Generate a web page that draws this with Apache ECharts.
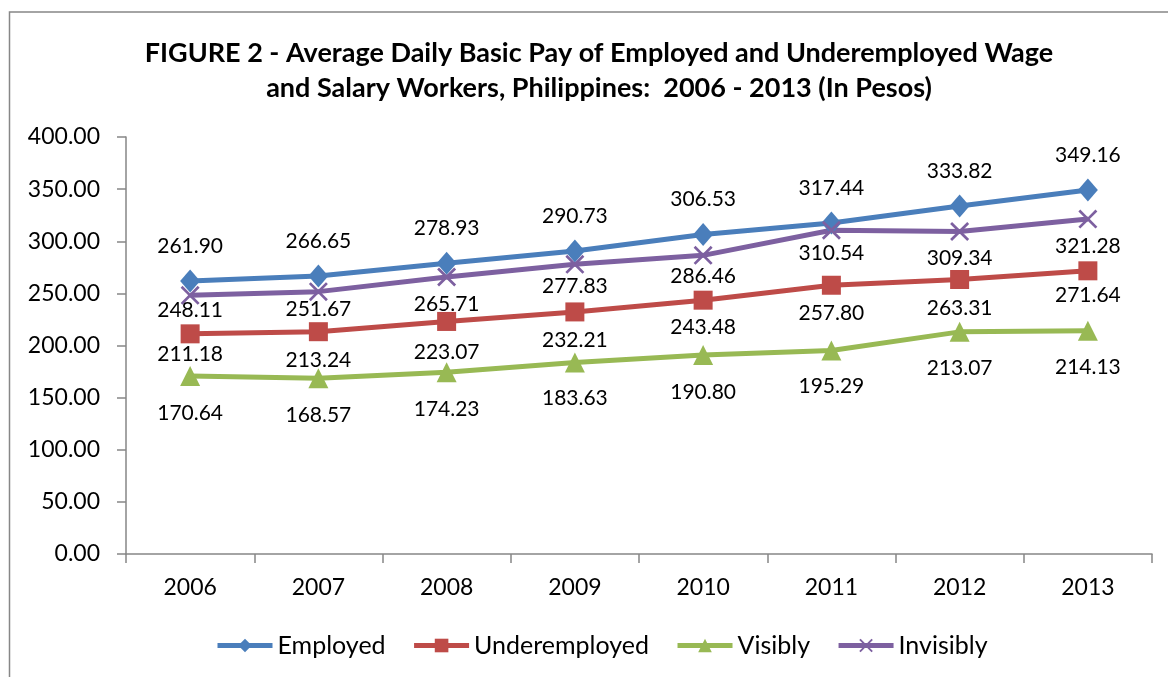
<!DOCTYPE html>
<html>
<head>
<meta charset="utf-8">
<script src="https://cdn.jsdelivr.net/npm/echarts@6/dist/echarts.min.js"></script>
<style>
  html, body { margin: 0; padding: 0; background: #fff; }
  #chart { width: 1168px; height: 677px; }
</style>
</head>
<body>
<div id="chart"></div>
<script>
var years = ['2006', '2007', '2008', '2009', '2010', '2011', '2012', '2013'];
var employed = [261.90, 266.65, 278.93, 290.73, 306.53, 317.44, 333.82, 349.16];
var underemployed = [211.18, 213.24, 223.07, 232.21, 243.48, 257.80, 263.31, 271.64];
var visibly = [170.64, 168.57, 174.23, 183.63, 190.80, 195.29, 213.07, 214.13];
var invisibly = [248.11, 251.67, 265.71, 277.83, 286.46, 310.54, 309.34, 321.28];

// vertical nudge of each data label (px from the marker)
var employedLabelDy = [-35, -35, -35, -35, -35, -35, -35, -35];
var underLabelDy = [20, 29, 31, 28, 27, 28, 29, 24];
var visiblyLabelDy = [37, 37, 37, 36, 37, 36, 36, 36];
var invisiblyLabelDy = [15, 18, 27, 22, 21, 23, 27, 27];

var font = 'Lato, "Noto Sans", sans-serif';
var xMark = 'path://M0,1L1,0L5,4L9,0L10,1L6,5L10,9L9,10L5,6L1,10L0,9L4,5Z';

function points(values, dys) {
  return values.map(function(v, i) {
    return { value: v, label: { offset: [0, dys[i]] } };
  });
}

function lineSeries(name, values, dys, color, symbol, size) {
  return {
    name: name,
    type: 'line',
    data: points(values, dys),
    symbol: symbol,
    symbolSize: size,
    lineStyle: { color: color, width: 5 },
    itemStyle: { color: color },
    label: {
      show: true,
      position: 'inside',
      color: '#000',
      fontFamily: font,
      fontSize: 21,
      formatter: function(p) { return p.value.toFixed(2); }
    }
  };
}

var chart = echarts.init(document.getElementById('chart'), null, { renderer: 'canvas' });
chart.setOption({
  animation: false,
  backgroundColor: '#fff',
  graphic: [{
    type: 'rect',
    shape: { x: 9.5, y: 12, width: 1300, height: 800 },
    style: { fill: 'none', stroke: '#878787', lineWidth: 1.5 },
    silent: true
  }],
  title: {
    text: 'FIGURE 2 - Average Daily Basic Pay of Employed and Underemployed Wage\nand Salary Workers, Philippines:  2006 - 2013 (In Pesos)',
    left: 594,
    textAlign: 'center',
    top: 31,
    textStyle: { fontFamily: font, fontSize: 27, fontWeight: 'bold', color: '#000', lineHeight: 35 }
  },
  legend: {
    bottom: 14,
    left: 210,
    itemWidth: 55,
    itemHeight: 17,
    itemGap: 26,
    lineStyle: { width: 5 },
    textStyle: { fontFamily: font, fontSize: 25, color: '#000' },
    data: ['Employed', 'Underemployed', 'Visibly', 'Invisibly']
  },
  grid: { left: 126, right: 16, top: 137, bottom: 123 },
  xAxis: {
    type: 'category',
    data: years,
    boundaryGap: true,
    axisLine: { lineStyle: { color: '#868686', width: 1.5 } },
    axisTick: { show: true, length: 9, lineStyle: { color: '#868686', width: 1.5 } },
    axisLabel: { color: '#000', fontFamily: font, fontSize: 23, margin: 22 }
  },
  yAxis: {
    type: 'value',
    min: 0,
    max: 400,
    interval: 50,
    splitLine: { show: false },
    axisLine: { show: true, lineStyle: { color: '#868686', width: 1.5 } },
    axisTick: { show: true, length: 9, lineStyle: { color: '#868686', width: 1.5 } },
    axisLabel: {
      color: '#000', fontFamily: font, fontSize: 23, margin: 26,
      formatter: function(v) { return v.toFixed(2); }
    }
  },
  series: [
    lineSeries('Employed', employed, employedLabelDy, '#4A7EBB', 'diamond', [20, 23]),
    lineSeries('Underemployed', underemployed, underLabelDy, '#BE4B48', 'rect', 19),
    lineSeries('Visibly', visibly, visiblyLabelDy, '#98B954', 'triangle', 20),
    lineSeries('Invisibly', invisibly, invisiblyLabelDy, '#7D60A0', xMark, 19)
  ]
});
window.addEventListener('resize', function() { chart.resize(); });
</script>
</body>
</html>
